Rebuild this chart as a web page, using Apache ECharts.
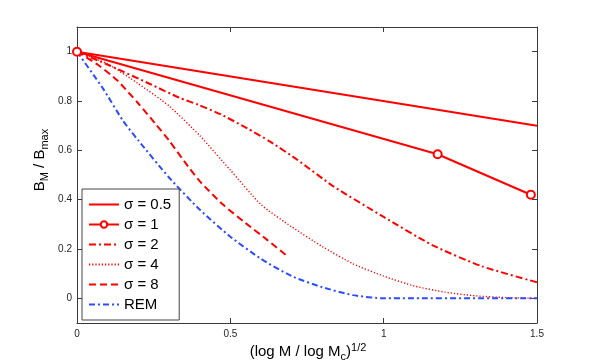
<!DOCTYPE html>
<html>
<head>
<meta charset="utf-8">
<script src="https://cdn.jsdelivr.net/npm/echarts@6/dist/echarts.min.js"></script>
<style>
  html, body { margin: 0; padding: 0; background: #fff; }
  #chart { width: 593px; height: 364px; }
</style>
</head>
<body>
<div id="chart"></div>
<script>
// tick values
const xTicks = [0, 0.5, 1, 1.5];
const yTicks = [0, 0.2, 0.4, 0.6, 0.8, 1];

// curves, x = (log M / log Mc)^1/2, y = B_M / B_max
const sig05X = [0, 1.5];
const sig05Y = [1, 0.70];

const sig1X = [0, 1.176, 1.48];
const sig1Y = [1, 0.584, 0.42];

const sig2X = [0, 0.108, 0.238, 0.336, 0.395, 0.47, 0.554, 0.63, 0.717, 0.835, 1.0, 1.16, 1.32, 1.5];
const sig2Y = [1, 0.943, 0.869, 0.812, 0.785, 0.745, 0.69, 0.635, 0.563, 0.455, 0.33, 0.215, 0.13, 0.065];

const sig4X = [0, 0.1, 0.2, 0.3, 0.4, 0.5, 0.6, 0.7, 0.8, 0.9, 1.0, 1.1, 1.2, 1.3, 1.4, 1.5];
const sig4Y = [1, 0.95, 0.87, 0.78, 0.66, 0.52, 0.38, 0.29, 0.21, 0.14, 0.09, 0.05, 0.025, 0.01, 0.003, 0];

const sig8X = [0, 0.07, 0.13, 0.2, 0.254, 0.3, 0.35, 0.4, 0.476, 0.55, 0.62, 0.69];
const sig8Y = [1, 0.945, 0.885, 0.79, 0.71, 0.64, 0.555, 0.475, 0.38, 0.305, 0.237, 0.167];

const remX = [0, 0.085, 0.15, 0.2, 0.3, 0.4, 0.5, 0.6, 0.7, 0.8, 0.9, 1.0, 1.5];
const remY = [1, 0.85, 0.72, 0.64, 0.49, 0.36, 0.25, 0.16, 0.09, 0.045, 0.013, 0, 0];

const legendNames = ['σ = 0.5', 'σ = 1', 'σ = 2', 'σ = 4', 'σ = 8', 'REM'];

function zip(xs, ys) {
    return xs.map(function (x, i) { return [x, ys[i]]; });
}

const red = '#ff0000';
const blue = '#2b4cff';
const axisColor = '#3a3a3a';
const font = 'Liberation Sans, Arial, sans-serif';

let myChart = echarts.init(document.getElementById('chart'), null, {renderer: 'canvas'});

let axisBase = {
    type: 'value',
    axisLine: {show: true, onZero: false, lineStyle: {color: axisColor, width: 1}},
    axisTick: {show: true, inside: true, length: 5, lineStyle: {color: axisColor}},
    splitLine: {show: false}
};

function lineSeries(name, data, color, width, type, extra) {
    let s = {
        name: name,
        type: 'line',
        data: data,
        symbol: 'none',
        color: color,
        animation: false,
        lineStyle: {color: color, width: width, type: type}
    };
    return Object.assign(s, extra || {});
}

// only sigma = 1 has a marker in the legend
let legendData = legendNames.map(function (n) {
    if (n === 'σ = 1') return {name: n};
    return {name: n, itemStyle: {opacity: 0}};
});

let option = {
    animation: false,
    grid: {left: 77, right: 56, top: 27, bottom: 41},
    xAxis: [
        Object.assign({}, axisBase, {
            min: 0, max: 1.5, interval: 0.5,
            axisLabel: {
                color: '#262626', fontSize: 10, fontFamily: font, margin: 6,
                formatter: function (v) { return String(v); }
            }
        }),
        Object.assign({}, axisBase, {
            position: 'top', min: 0, max: 1.5, interval: 0.5,
            axisLabel: {show: false}
        })
    ],
    yAxis: [
        Object.assign({}, axisBase, {
            min: -0.1, max: 1.1,
            axisTick: {show: true, inside: true, length: 5, lineStyle: {color: axisColor}, customValues: yTicks},
            axisLabel: {
                color: '#262626', fontSize: 10, fontFamily: font, margin: 5,
                customValues: yTicks,
                formatter: function (v) { return String(Math.round(v * 10) / 10); }
            }
        }),
        Object.assign({}, axisBase, {
            position: 'right', min: -0.1, max: 1.1,
            axisTick: {show: true, inside: true, length: 5, lineStyle: {color: axisColor}, customValues: yTicks},
            axisLabel: {show: false}
        })
    ],
    legend: {
        orient: 'vertical',
        left: 82, top: 189,
        padding: [7, 8, 7, 6],
        itemWidth: 30, itemHeight: 8, itemGap: 3,
        backgroundColor: '#fff',
        borderColor: '#444', borderWidth: 1, borderRadius: 0,
        textStyle: {fontSize: 15, fontFamily: font, color: '#000', lineHeight: 17},
        data: legendData
    },
    graphic: [
        {
            type: 'text', x: 40, y: 160, rotation: Math.PI / 2,
            style: {
                text: '{a|B}{s|M}{a| / B}{s|max}',
                align: 'center', verticalAlign: 'middle',
                rich: {
                    a: {fontSize: 15, fontFamily: font, fill: '#000', lineHeight: 20, verticalAlign: 'middle'},
                    s: {fontSize: 11, fontFamily: font, fill: '#000', lineHeight: 10, verticalAlign: 'bottom'}
                }
            }
        },
        {
            type: 'text', x: 308, y: 352,
            style: {
                text: '{a|(log M / log M}{s|c}{a|)}{p|1/2}',
                align: 'center', verticalAlign: 'middle',
                rich: {
                    a: {fontSize: 15, fontFamily: font, fill: '#000', lineHeight: 20, verticalAlign: 'middle'},
                    s: {fontSize: 11, fontFamily: font, fill: '#000', lineHeight: 10, verticalAlign: 'bottom'},
                    p: {fontSize: 11, fontFamily: font, fill: '#000', lineHeight: 10, verticalAlign: 'top'}
                }
            }
        }
    ],
    series: [
        lineSeries('σ = 0.5', zip(sig05X, sig05Y), red, 2, 'solid'),
        lineSeries('σ = 2', zip(sig2X, sig2Y), red, 2, [7, 3, 2, 3], {smooth: 0.2}),
        lineSeries('σ = 4', zip(sig4X, sig4Y), red, 1.4, [1.2, 2], {smooth: 0.2}),
        lineSeries('σ = 8', zip(sig8X, sig8Y), red, 2, [7, 4], {smooth: 0.2}),
        lineSeries('REM', zip(remX, remY), blue, 2, [6, 3, 2, 3], {smooth: 0.2}),
        lineSeries('σ = 1', zip(sig1X, sig1Y), red, 2, 'solid', {
            symbol: 'emptyCircle', symbolSize: 8, showSymbol: true,
            itemStyle: {color: red, borderWidth: 1.6}, z: 5
        })
    ]
};
myChart.setOption(option);
</script>
</body>
</html>
